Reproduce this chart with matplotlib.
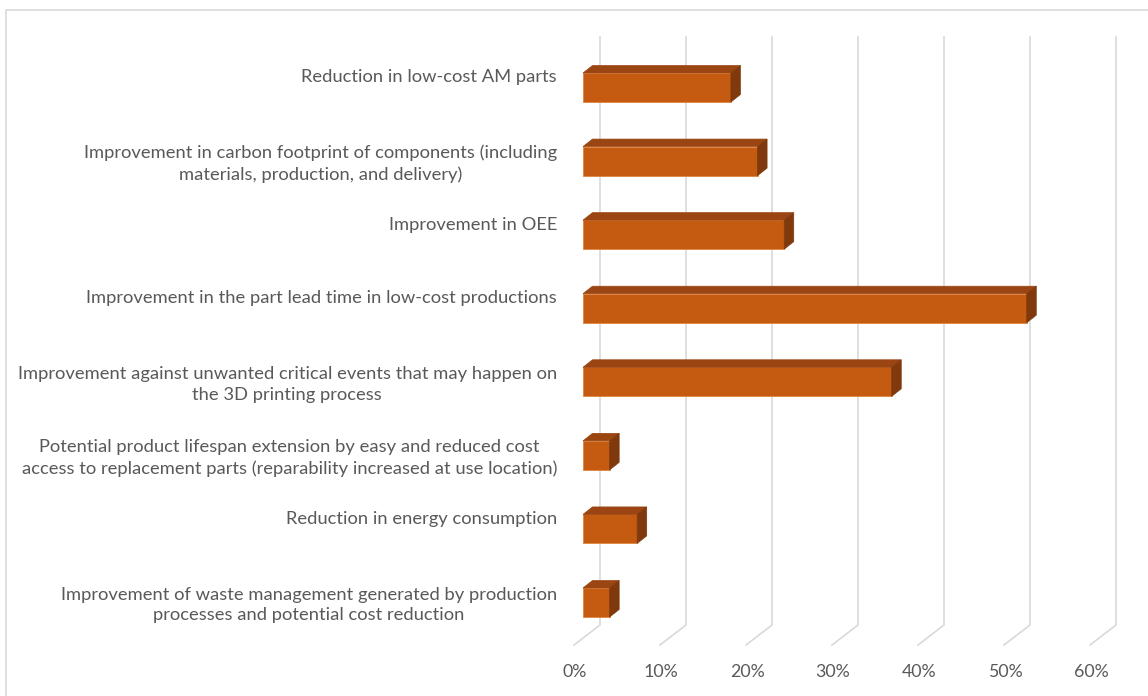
import matplotlib
matplotlib.use("Agg")
import matplotlib.pyplot as plt
from matplotlib.patches import Polygon
from matplotlib.lines import Line2D

categories = [
    "Reduction in low-cost AM parts",
    "Improvement in carbon footprint of components (including\nmaterials, production, and delivery)",
    "Improvement in OEE",
    "Improvement in the part lead time in low-cost productions",
    "Improvement against unwanted critical events that may happen on\nthe 3D printing process",
    "Potential product lifespan extension by easy and reduced cost\naccess to replacement parts (reparability increased at use location)",
    "Reduction in energy consumption",
    "Improvement of waste management generated by production\nprocesses and potential cost reduction",
]
values = [0.172, 0.203, 0.234, 0.516, 0.359, 0.031, 0.063, 0.031]
ticks = [0.0, 0.1, 0.2, 0.3, 0.4, 0.5, 0.6]
tick_labels = ["0%", "10%", "20%", "30%", "40%", "50%", "60%"]

W, H = 1148, 696
X0_PX, PX_PER_X = 583, 860.0     # bar front plane: 0 at 583 px, 10% = 86 px
Y0_PX, PX_PER_CAT = 87.5, 73.57   # first bar centre and category spacing

FRONT = "#C55A11"
TOP = "#9A4512"
SIDE = "#7F390C"
GRID = "#D9D9D9"
TXT = "#595959"

plt.rcParams['font.family'] = ['Lato', 'DejaVu Sans']


def dx(p):
    return p / PX_PER_X


def dy(p):
    return p / PX_PER_CAT


def ypx(p):
    return (p - Y0_PX) / PX_PER_CAT


fig = plt.figure(figsize=(W / 100, H / 100), dpi=100)
top_px, bot_px = Y0_PX - 0.5 * PX_PER_CAT, Y0_PX + 7.5 * PX_PER_CAT
ax = fig.add_axes([X0_PX / W, 1 - bot_px / H, 0.6 * PX_PER_X / W, (bot_px - top_px) / H])
ax.set_xlim(0, 0.6)
ax.set_ylim(7.5, -0.5)
ax.axis('off')

# back wall gridlines + floor diagonals
for t in ticks:
    xb = t + dx(17)
    xf = t + dx(-9)
    ax.add_line(Line2D([xb, xb, xf], [ypx(37), ypx(625), ypx(645)], color=GRID, lw=1.2,
                       clip_on=False, zorder=1))

# 3D bars
h = 29 / PX_PER_CAT
ddx, ddy = dx(9.5), -dy(7.5)
for i, v in enumerate(values):
    y0, y1 = i - h / 2, i + h / 2
    ax.barh(i, v, height=h, color=FRONT, edgecolor="#E0843F", linewidth=0.6, zorder=3)
    ax.add_patch(Polygon([(0, y0), (v, y0), (v + ddx, y0 + ddy), (ddx, y0 + ddy)],
                         closed=True, facecolor=TOP, edgecolor=TOP, lw=0.5, zorder=3, clip_on=False))
    ax.add_patch(Polygon([(v, y0), (v, y1), (v + ddx, y1 + ddy), (v + ddx, y0 + ddy)],
                         closed=True, facecolor=SIDE, edgecolor=SIDE, lw=0.5, zorder=3, clip_on=False))

# category labels
for i, lab in enumerate(categories):
    yy = i + 2.5 / PX_PER_CAT if "\n" in lab else i - 10 / PX_PER_CAT
    ax.text(dx(-26), yy, lab, ha='right', va='center', multialignment='center',
            fontsize=13.2, color=TXT, linespacing=1.38, clip_on=False)

# value axis labels
for t, lab in zip(ticks, tick_labels):
    ax.text(t + dx(-8), ypx(672), lab, ha='center', va='center', fontsize=12.8, color=TXT)

# chart frame
fig.add_artist(Line2D([6 / W, 6 / W, 1], [0, 1 - 9.5 / H, 1 - 9.5 / H],
                      transform=fig.transFigure, color=GRID, lw=1.2))

fig.savefig("out.png", dpi=100)
